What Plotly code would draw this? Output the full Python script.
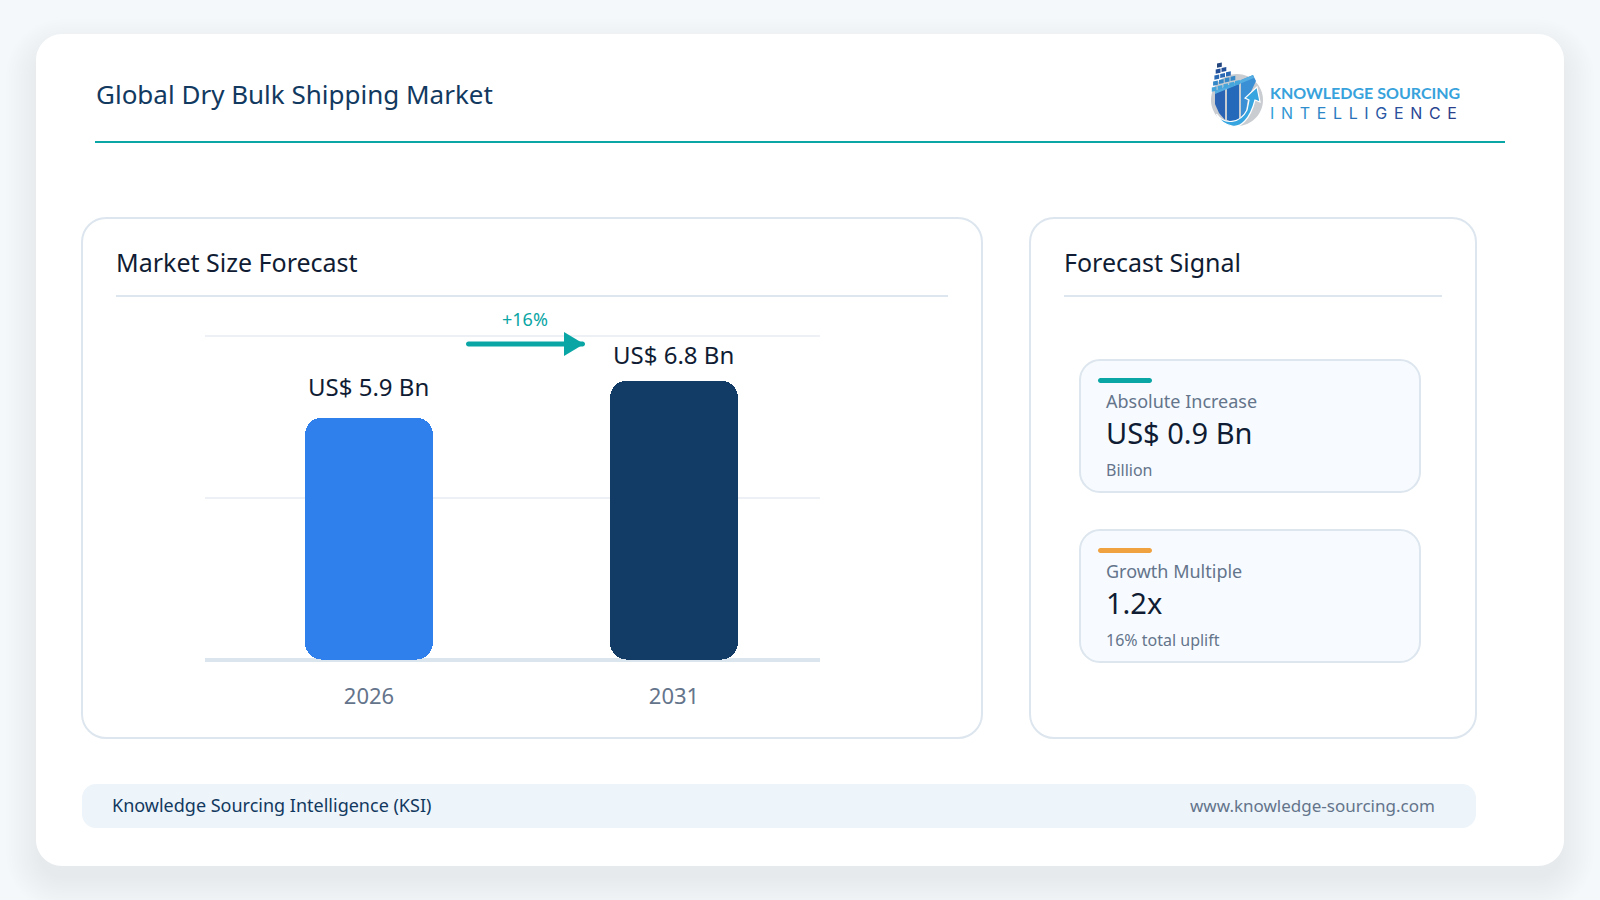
import plotly.graph_objects as go

# ---- data ----
YEARS = ["2026", "2031"]
VALUES = [5.9, 6.8]
GRID_VALUES = [3.95, 7.9]
AXIS_MAX = 8.0
BAR_COLORS = ["#2f80ed", "#123c66"]
TITLE = "Global Dry Bulk Shipping Market"
GROWTH_LABEL = "+16%"
STAT_LABELS = ["Absolute Increase", "Growth Multiple"]
STAT_VALUES = ["US$ 0.9 Bn", "1.2x"]
STAT_NOTES = ["Billion", "16% total uplift"]
STAT_ACCENTS = ["#0aa5a5", "#f0a240"]

W, H = 1600, 900
FONT = "Noto Sans"
NAVY = "#12395f"
INK = "#101c33"
GREY = "#64748b"
TEAL = "#0aa5a5"
BORDER = "#dde6ee"


def px(x):
    return x / W


def py(y):
    return 1 - y / H


def rrect(x0, y0, x1, y1, r):
    k = 0.45 * r
    pts = [
        f"M{px(x0 + r)},{py(y0)}", f"L{px(x1 - r)},{py(y0)}",
        f"C{px(x1 - k)},{py(y0)} {px(x1)},{py(y0 + k)} {px(x1)},{py(y0 + r)}",
        f"L{px(x1)},{py(y1 - r)}",
        f"C{px(x1)},{py(y1 - k)} {px(x1 - k)},{py(y1)} {px(x1 - r)},{py(y1)}",
        f"L{px(x0 + r)},{py(y1)}",
        f"C{px(x0 + k)},{py(y1)} {px(x0)},{py(y1 - k)} {px(x0)},{py(y1 - r)}",
        f"L{px(x0)},{py(y0 + r)}",
        f"C{px(x0)},{py(y0 + k)} {px(x0 + k)},{py(y0)} {px(x0 + r)},{py(y0)}", "Z",
    ]
    return " ".join(pts)


def poly(points):
    return "M" + " L".join(f"{px(x)},{py(y)}" for x, y in points) + " Z"


shapes = []


def card(x0, y0, x1, y1, r, fill, line=None, lw=2):
    shapes.append(dict(type="path", xref="paper", yref="paper", layer="below", path=rrect(x0, y0, x1, y1, r),
                       fillcolor=fill, line=dict(color=line or "rgba(0,0,0,0)", width=lw if line else 0)))


def hline(x0, x1, y, color, width):
    shapes.append(dict(type="line", xref="paper", yref="paper", layer="below", x0=px(x0), x1=px(x1), y0=py(y), y1=py(y),
                       line=dict(color=color, width=width)))


def fill_path(path, color, layer="below", outline=None, outline_w=0):
    shapes.append(dict(type="path", xref="paper", yref="paper", layer=layer, path=path, fillcolor=color,
                       line=dict(width=outline_w, color=outline or "rgba(0,0,0,0)")))


annotations = []


def label(text, x, y, size, color, anchor="left", weight=None, family=FONT):
    f = dict(family=family, size=size, color=color)
    if weight:
        f["weight"] = weight
    annotations.append(dict(text=text, xref="paper", yref="paper", x=px(x), y=py(y), xanchor=anchor, yanchor="middle",
                            showarrow=False, font=f, align=anchor, borderpad=0, borderwidth=0))


# outer card with soft shadow
for i in range(14):
    e = 30 - i * 2.5
    card(36 - e, 34 - e + 15, 1564 + e, 866 + e + 15, 26 + e, "rgba(45,55,75,0.0058)")
card(36, 34, 1564, 866, 26, "#ffffff")

# header
label(TITLE, 96, 94, 26, NAVY)
hline(95, 1505, 142, TEAL, 2)

# panels
card(82, 218, 982, 738, 24, "#ffffff", BORDER)
card(1030, 218, 1476, 738, 24, "#ffffff", BORDER)
label("Market Size Forecast", 116, 262, 25, INK)
label("Forecast Signal", 1064, 262, 25, INK)
hline(116, 948, 296, BORDER, 2)
hline(1064, 1442, 296, BORDER, 2)

# stat cards
for i, top in enumerate([360, 530]):
    card(1080, top, 1420, top + 132, 20, "#f7fbff", BORDER)
    fill_path(rrect(1098, top + 18, 1152, top + 23, 2.5), STAT_ACCENTS[i])
    label(STAT_LABELS[i], 1106, top + 41, 18, GREY)
    label(STAT_VALUES[i], 1106, top + 72, 29, INK)
    label(STAT_NOTES[i], 1106, top + 110, 16, GREY)

# footer
card(82, 784, 1476, 828, 14, "#edf4fa")
label("Knowledge Sourcing Intelligence (KSI)", 112, 805, 18, NAVY)
label("www.knowledge-sourcing.com", 1435, 805, 17, GREY, anchor="right")

# growth arrow
fill_path(rrect(466, 341.5, 585, 346.5, 2.5), TEAL, layer="above")
fill_path(poly([(564, 332), (584, 344), (564, 356)]), TEAL, layer="above")
label(GROWTH_LABEL, 525, 319, 18, TEAL, anchor="center")

# logo
fill_path(rrect(1211, 74, 1263, 126, 26), "#c9ccd0")
fill_path(poly([(1215, 91), (1225, 87), (1225, 120), (1219, 113), (1215, 104)]), "#2a63b4")
fill_path(poly([(1227, 86), (1239, 81), (1239, 121), (1232, 122), (1227, 120)]), "#2569ba")
fill_path(poly([(1241, 80), (1253, 75), (1256, 81), (1248, 98), (1245, 118), (1241, 121)]), "#3b8fd4")
fill_path(poly([(1215, 91), (1253, 75), (1254, 78), (1215, 94)]), "#55aee2")
rows = [1, 2, 3, 4, 5]
row_colors = ["#23467f", "#24509a", "#2a68b4", "#3488c8", "#46a6dc"]
for r, n in enumerate(rows):
    for c in range(n):
        sx = 1217 - r * 1.3 + c * 5.8
        sy = 62.5 + r * 5.4 - c * 1.6 + (r * 0.6)
        fill_path(poly([(sx, sy + 1), (sx + 4.8, sy), (sx + 4.8, sy + 4.2), (sx, sy + 5.2)]), row_colors[r])
fill_path(
    f"M{px(1216.5)},{py(114)} C{px(1224)},{py(125)} {px(1240)},{py(124)} {px(1247)},{py(110)} L{px(1249)},{py(100)} "
    f"L{px(1245)},{py(98)} L{px(1257)},{py(87)} L{px(1260)},{py(102)} L{px(1255)},{py(100)} "
    f"C{px(1250)},{py(120)} {px(1240)},{py(128)} {px(1232)},{py(126)} C{px(1226)},{py(125)} {px(1219)},{py(121)} {px(1216.5)},{py(114)} Z",
    "#37a5df", outline="#ffffff", outline_w=1.2)
label("KNOWLEDGE SOURCING", 1270, 93, 16, "#37a2dc", weight=700, family="Lato")
LOGO_LETTERS = "INTELLIGENCE"
LOGO_SHADES = ["#35a0da", "#3297d4", "#2f8ecd", "#2c85c6", "#2a7abf", "#2a6fb6", "#2a63ad", "#2a58a4", "#2a4f9c",
               "#2a4794", "#2a428e", "#2a3e8a"]
logo_text = "\u2005\u2006".join(f'<span style="color:{c}">{ch}</span>' for ch, c in zip(LOGO_LETTERS, LOGO_SHADES))
label(logo_text, 1270, 112.5, 16, "#2a63ad", weight=400, family="Inter")

# value labels tied to the data
for i, (v, shift) in enumerate(zip(VALUES, [31, 26.5])):
    annotations.append(dict(text=f"US$ {v} Bn", xref="x", yref="y", x=i, y=v, yshift=shift, xshift=-0.7, showarrow=False,
                            xanchor="center", yanchor="middle", font=dict(family=FONT, size=24, color=INK)))

fig = go.Figure()
BAR_W = 0.4187
# Upper and lower parts of each bar so that both ends get rounded corners, with a square middle over the joint
fig.add_trace(go.Bar(x=YEARS, y=[v * 0.5 for v in VALUES], base=[v * 0.5 for v in VALUES], width=BAR_W,
                     marker=dict(color=BAR_COLORS, cornerradius=17, line=dict(width=0)), hoverinfo="x+y", name="Market size"))
fig.add_trace(go.Bar(x=YEARS, y=[-v * 0.6 for v in VALUES], base=[v * 0.6 for v in VALUES], width=BAR_W,
                     marker=dict(color=BAR_COLORS, cornerradius=17, line=dict(width=0)), hoverinfo="skip", showlegend=False))
fig.add_trace(go.Bar(x=YEARS, y=[v * 0.5 for v in VALUES], base=[v * 0.25 for v in VALUES], width=BAR_W,
                     marker=dict(color=BAR_COLORS, cornerradius=0, line=dict(width=0)), hoverinfo="skip", showlegend=False))

fig.update_layout(
    width=W, height=H, margin=dict(l=0, r=0, t=0, b=0), autosize=False,
    paper_bgcolor="#f4f8fb", plot_bgcolor="rgba(0,0,0,0)", showlegend=False, barmode="overlay", bargap=0,
    shapes=shapes, annotations=annotations, font=dict(family=FONT),
    xaxis=dict(domain=[px(205), px(820)], type="category", categoryorder="array", categoryarray=YEARS,
               range=[-0.5377, 1.4787], showgrid=False, zeroline=False, showline=False, ticks="outside", ticklen=0,
               tickcolor="rgba(0,0,0,0)", ticklabelstandoff=17, tickfont=dict(family=FONT, size=22, color=GREY)),
    yaxis=dict(domain=[py(660), py(331.6)], range=[0, AXIS_MAX], tickvals=[0] + GRID_VALUES, showticklabels=False,
               showgrid=True, gridcolor="#edf1f5", gridwidth=2, zeroline=True, zerolinecolor="#dbe5ee", zerolinewidth=4,
               showline=False, ticks=""),
)
fig.write_html("out.html", config=dict(displayModeBar=False),
               post_script="document.body.style.margin='0';document.body.style.background='#f4f8fb';")
